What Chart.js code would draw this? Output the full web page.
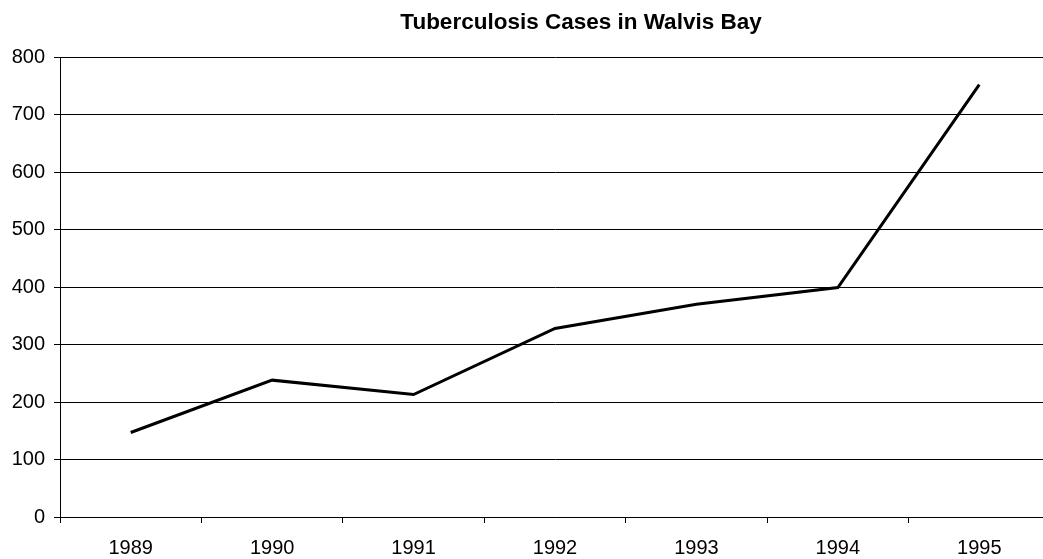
<!DOCTYPE html>
<html>
<head>
<meta charset="utf-8">
<script src="https://cdn.jsdelivr.net/npm/chart.js@4"></script>
<style>
  html, body { margin: 0; padding: 0; background: #fff; overflow: hidden; }
  #wrap { position: absolute; left: 0; top: 0; width: 1060px; height: 559px; }
</style>
</head>
<body>
<div id="wrap"><canvas id="chart"></canvas></div>
<script>
// chart data
const years = ["1989", "1990", "1991", "1992", "1993", "1994", "1995"];
const cases = [147, 238, 213, 328, 370, 399, 752];
const yTicks = [0, 100, 200, 300, 400, 500, 600, 700, 800];
const chartTitle = "Tuberculosis Cases in Walvis Bay";

const FONT = "'Liberation Sans', Arial, sans-serif";

// title drawn at a fixed spot, like the original image
const titlePlugin = {
    id: "fixedTitle",
    afterDraw(chart) {
        const ctx = chart.ctx;
        ctx.save();
        ctx.font = "bold 22.5px " + FONT;
        ctx.fillStyle = "#000";
        ctx.textAlign = "center";
        ctx.textBaseline = "middle";
        ctx.fillText(chartTitle, 581, 23);
        ctx.restore();
    }
};

new Chart(document.getElementById("chart").getContext("2d"), {
    type: "line",
    data: {
        labels: years,
        datasets: [{
            label: "Cases",
            data: cases,
            borderColor: "#000",
            borderWidth: 3,
            pointRadius: 0,
            tension: 0,
            fill: false
        }]
    },
    options: {
        responsive: true,
        maintainAspectRatio: false,
        animation: false,
        layout: { padding: { top: 57, right: 10, left: 0, bottom: 0 } },
        plugins: {
            legend: { display: false },
            title: { display: false },
            tooltip: { enabled: false }
        },
        scales: {
            x: {
                offset: true,
                grid: {
                    offset: true,
                    drawOnChartArea: false,
                    drawTicks: true,
                    tickLength: 6,
                    color: "#000"
                },
                border: { color: "#000", width: 1 },
                ticks: {
                    color: "#000",
                    font: { family: FONT, size: 20 },
                    padding: 13,
                    maxRotation: 0
                },
                afterFit: s => { s.height = 42; }
            },
            y: {
                min: 0,
                max: 800,
                afterBuildTicks: s => { s.ticks = yTicks.map(v => ({ value: v })); },
                grid: {
                    color: "#000",
                    lineWidth: 1,
                    tickLength: 6
                },
                border: { color: "#000", width: 1 },
                ticks: {
                    color: "#000",
                    font: { family: FONT, size: 20 },
                    padding: 9
                },
                afterFit: s => { s.width = 60; }
            }
        }
    },
    plugins: [titlePlugin]
});
</script>
</body>
</html>
